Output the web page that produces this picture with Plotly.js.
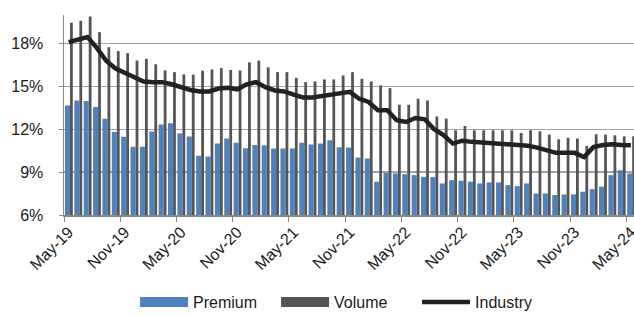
<!DOCTYPE html>
<html>
<head>
<meta charset="utf-8">
<script src="https://cdn.plot.ly/plotly-3.0.1.min.js"></script>
<style>html,body{margin:0;padding:0;background:#fff;overflow:hidden}#chart{width:634px;height:316px}</style>
</head>
<body>
<div id="chart"></div>
<script>
const months = ['May-19','Jun-19','Jul-19','Aug-19','Sep-19','Oct-19','Nov-19','Dec-19','Jan-20','Feb-20','Mar-20','Apr-20',
'May-20','Jun-20','Jul-20','Aug-20','Sep-20','Oct-20','Nov-20','Dec-20','Jan-21','Feb-21','Mar-21','Apr-21',
'May-21','Jun-21','Jul-21','Aug-21','Sep-21','Oct-21','Nov-21','Dec-21','Jan-22','Feb-22','Mar-22','Apr-22',
'May-22','Jun-22','Jul-22','Aug-22','Sep-22','Oct-22','Nov-22','Dec-22','Jan-23','Feb-23','Mar-23','Apr-23',
'May-23','Jun-23','Jul-23','Aug-23','Sep-23','Oct-23','Nov-23','Dec-23','Jan-24','Feb-24','Mar-24','Apr-24','May-24'];

const premium = [13.67,14.02,13.98,13.56,12.74,11.81,11.47,10.77,10.77,11.85,12.33,12.42,
11.70,11.50,10.14,10.10,11.00,11.35,11.05,10.68,10.90,10.88,10.65,10.65,
10.65,11.05,10.93,11.00,11.23,10.75,10.72,10.02,9.95,8.33,8.95,8.91,
8.86,8.79,8.67,8.65,8.21,8.44,8.40,8.33,8.21,8.28,8.28,8.09,
8.02,8.21,7.50,7.51,7.40,7.44,7.44,7.63,7.81,7.98,8.79,9.14,8.91];

const volume = [19.45,19.60,19.90,18.80,17.75,17.47,17.33,16.81,16.93,16.55,16.12,16.00,
15.84,15.82,16.10,16.19,16.28,16.16,16.12,16.68,16.81,16.33,16.00,16.00,
15.60,15.30,15.35,15.49,15.49,15.77,16.00,15.53,15.35,15.07,14.88,13.72,
13.72,14.14,14.02,12.90,12.75,11.93,12.23,11.93,11.93,11.93,11.93,11.93,
11.74,11.93,11.86,11.63,11.30,11.40,11.35,10.84,11.65,11.63,11.58,11.51,11.51];

const industry = [18.10,18.30,18.45,17.70,16.80,16.25,15.95,15.70,15.35,15.30,15.30,15.15,
14.95,14.75,14.65,14.65,14.85,14.90,14.80,15.15,15.30,14.95,14.72,14.65,
14.42,14.23,14.23,14.33,14.42,14.50,14.62,14.14,13.91,13.33,13.33,12.63,
12.51,12.79,12.70,12.00,11.60,11.00,11.20,11.12,11.08,11.05,11.00,10.93,
10.88,10.85,10.72,10.50,10.35,10.35,10.35,10.05,10.75,10.90,10.95,10.90,10.88];

const yTicks = [6, 9, 12, 15, 18];
const yTickText = ['6%', '9%', '12%', '15%', '18%'];

const FONT = 'Liberation Sans, Arial, sans-serif';
const BLUE = '#4f81bd';
const GRAY = '#555555';
const BLACK = '#222222';

const traces = [
  {type:'scatter', mode:'lines', x:[null], y:[null], name:'Premium', legendrank:1,
   line:{color:BLUE, width:10}, hoverinfo:'skip'},
  {type:'scatter', mode:'lines', x:[null], y:[null], name:'Volume', legendrank:2,
   line:{color:GRAY, width:10}, hoverinfo:'skip'},
  {type:'bar', x:months, y:premium, name:'Premium', showlegend:false,
   marker:{color:BLUE, line:{width:0}}, offset:-0.40, width:0.54},
  {type:'bar', x:months, y:volume, name:'Volume', showlegend:false,
   marker:{color:GRAY, line:{width:0}}, offset:0.14, width:0.30},
  {type:'scatter', mode:'lines', x:months, y:industry, name:'Industry', legendrank:3,
   line:{color:BLACK, width:4.5}}
];

const layout = {
  width:634, height:316,
  margin:{l:64, r:0, t:15, b:101},
  paper_bgcolor:'#fff', plot_bgcolor:'#fff',
  barmode:'overlay',
  font:{family:FONT, size:16, color:'#1a1a1a'},
  showlegend:true,
  legend:{orientation:'h', xref:'container', yref:'container', x:0.213, xanchor:'left',
          y:0.044, yanchor:'middle', itemwidth:48, entrywidth:78,
          font:{family:FONT, size:16, color:'#1a1a1a'},
          bgcolor:'rgba(0,0,0,0)', tracegroupgap:0},
  xaxis:{type:'category', range:[-0.5, 60.33], tickson:'boundaries', dtick:6, tick0:0,
         tickangle:-45, ticks:'outside', ticklen:5, tickcolor:'#888',
         showline:true, linecolor:'#888', linewidth:1.5, showgrid:false, zeroline:false,
         tickfont:{family:FONT, size:16, color:'#1a1a1a'}},
  yaxis:{range:[6, 20], tickmode:'array', tickvals:yTicks, ticktext:yTickText,
         ticks:'outside', ticklen:4, tickcolor:'#888',
         showline:true, linecolor:'#888', linewidth:1.5, showgrid:true, gridcolor:'#a3a3a3', gridwidth:1.5,
         zeroline:false, ticklabelstandoff:12,
         tickfont:{family:FONT, size:16, color:'#1a1a1a'}}
};

Plotly.newPlot('chart', traces, layout, {displayModeBar:false, staticPlot:true});
</script>
</body>
</html>
